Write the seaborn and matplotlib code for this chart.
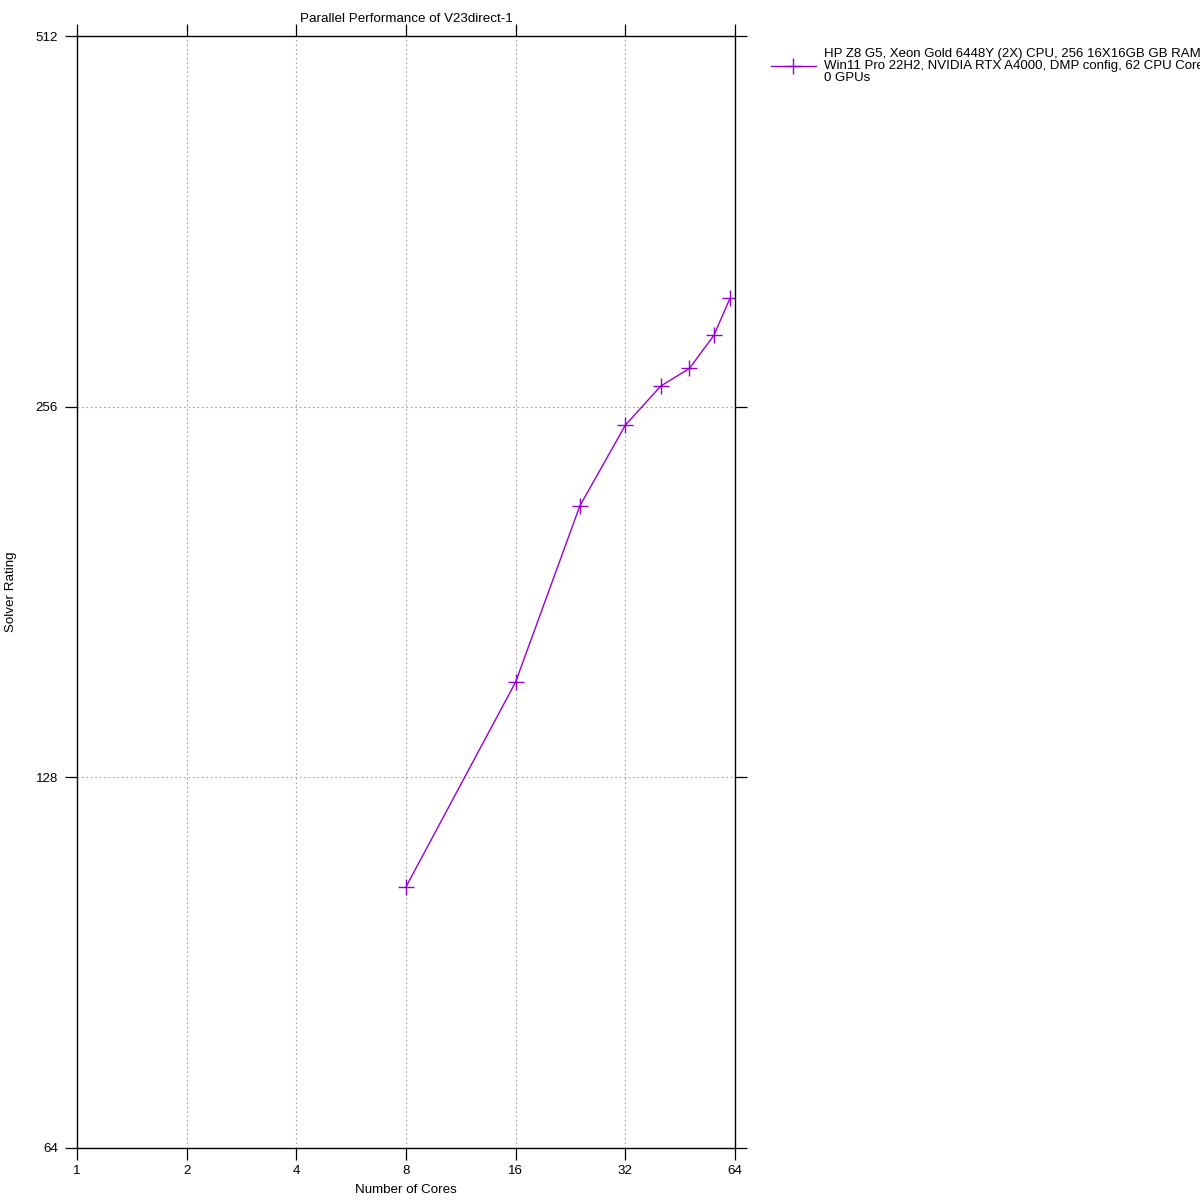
import pandas as pd
import matplotlib
matplotlib.use("Agg")
import matplotlib.pyplot as plt
import matplotlib.ticker as mticker
import seaborn as sns

# Data
cores = [8, 16, 24, 32, 40, 48, 56, 62]
rating = [104.3, 153.0, 212.6, 247.3, 266.0, 275.0, 292.5, 313.5]

x_ticks = [1, 2, 4, 8, 16, 32, 64]
y_ticks = [64, 128, 256, 512]

series_label = ("HP Z8 G5, Xeon Gold 6448Y (2X) CPU, 256 16X16GB GB RAM,\n"
                "Win11 Pro 22H2, NVIDIA RTX A4000, DMP config, 62 CPU Cores,\n"
                "0 GPUs")

LINE_COLOR = "#9400d3"


def main():
    sns.set_style("white")
    plt.rcParams["font.family"] = ["Liberation Sans", "DejaVu Sans"]
    plt.rcParams["text.color"] = "black"
    plt.rcParams["axes.labelcolor"] = "black"
    plt.rcParams["xtick.color"] = "black"
    plt.rcParams["ytick.color"] = "black"

    df = pd.DataFrame({"cores": cores, "rating": rating, "system": series_label})

    fig = plt.figure(figsize=(12, 12), dpi=100)
    ax = fig.add_axes([77 / 1200, 1 - 1148 / 1200, (735 - 77) / 1200, (1148 - 36) / 1200])

    sns.lineplot(
        data=df, x="cores", y="rating", hue="system",
        palette=[LINE_COLOR], marker="+", markersize=12,
        markeredgewidth=1.0, markeredgecolor=LINE_COLOR,
        linewidth=1.0, ax=ax,
    )

    ax.set_xscale("log", base=2)
    ax.set_yscale("log", base=2)
    ax.set_xlim(1, 64)
    ax.set_ylim(64, 512)
    ax.xaxis.set_major_locator(mticker.FixedLocator(x_ticks))
    ax.yaxis.set_major_locator(mticker.FixedLocator(y_ticks))
    ax.xaxis.set_major_formatter(mticker.FixedFormatter([str(v) for v in x_ticks]))
    ax.yaxis.set_major_formatter(mticker.FixedFormatter([str(v) for v in y_ticks]))
    ax.xaxis.set_minor_locator(mticker.NullLocator())
    ax.yaxis.set_minor_locator(mticker.NullLocator())

    ax.tick_params(axis="both", which="major", direction="out", length=8.6,
                   width=0.9, color="black", labelcolor="black", labelsize=9.6,
                   top=True, right=True, bottom=True, left=True)
    ax.tick_params(axis="x", pad=3.5)
    ax.tick_params(axis="y", pad=5)

    for sp in ax.spines.values():
        sp.set_color("black")
        sp.set_linewidth(1.0)

    ax.grid(True, which="major", linestyle=(0, (1.5, 2.5)), color="#a0a0a0", linewidth=0.8)

    ax.set_title("Parallel Performance of V23direct-1", fontsize=9.6, pad=10, color="black")
    ax.set_xlabel("Number of Cores", fontsize=9.6)
    ax.set_ylabel("Solver Rating", fontsize=9.6)
    ax.xaxis.set_label_coords(0.5, -0.032)
    ax.yaxis.set_label_coords(-0.091, 0.5)

    handles, labels = ax.get_legend_handles_labels()
    leg = ax.legend(handles, labels, loc="upper left",
                    bbox_to_anchor=(771 / 1200, 1 - 48 / 1200),
                    bbox_transform=fig.transFigure, frameon=False,
                    borderpad=0, borderaxespad=0, handlelength=3.4,
                    handletextpad=0.6, fontsize=9.5, title=None)
    for t in leg.get_texts():
        t.set_linespacing(1.02)
        t.set_color("black")

    fig.savefig("out.png", dpi=100)


if __name__ == "__main__":
    main()
